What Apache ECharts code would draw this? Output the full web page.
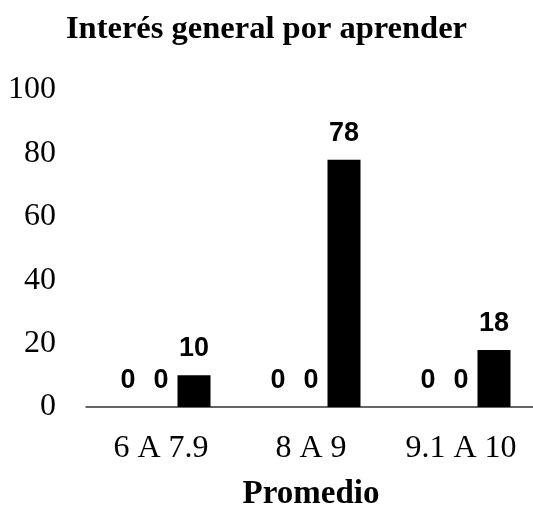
<!DOCTYPE html>
<html>
<head>
<meta charset="utf-8">
<script src="https://cdn.jsdelivr.net/npm/echarts@6/dist/echarts.min.js"></script>
<style>
  html, body { margin: 0; padding: 0; background: #fff; }
  #chart { width: 533px; height: 515px; }
</style>
</head>
<body>
<div id="chart"></div>
<script>
const categories = ['6 A 7.9', '8 A 9', '9.1 A 10']
const serie1 = [0, 0, 0]
const serie2 = [0, 0, 0]
const serie3 = [10, 78, 18]
const yTicks = [0, 20, 40, 60, 80, 100]

const serif = '"Liberation Serif", "DejaVu Serif", serif'
const sans = '"Liberation Sans", Arial, sans-serif'

// etiqueta comun para las barras
const barLabel = {
  show: true,
  position: 'top',
  distance: 13,
  color: '#000',
  fontFamily: sans,
  fontWeight: 'bold',
  fontSize: 27
}

const mkSerie = (name, data) => ({
  name: name,
  type: 'bar',
  data: data,
  barWidth: 33,
  barGap: '0%',
  itemStyle: { color: '#000' },
  label: barLabel
})

const options = {
  animation: false,
  title: {
    text: 'Interés general por aprender',
    left: 'center',
    top: 8,
    textStyle: {
      fontFamily: serif,
      fontWeight: 'bold',
      fontSize: 32.5,
      color: '#000'
    }
  },
  grid: {
    left: 86,
    right: -3,
    top: 90,
    bottom: 108,
    outerBoundsMode: 'none'
  },
  xAxis: {
    type: 'category',
    data: categories,
    name: 'Promedio',
    nameLocation: 'middle',
    nameGap: 71,
    nameTextStyle: {
      fontFamily: serif,
      fontWeight: 'bold',
      fontSize: 33,
      color: '#000'
    },
    axisLine: { lineStyle: { color: '#333', width: 1.5 } },
    axisTick: { show: false },
    axisLabel: {
      margin: 26,
      fontFamily: serif,
      fontSize: 32,
      color: '#000'
    }
  },
  yAxis: {
    type: 'value',
    min: yTicks[0],
    max: yTicks[yTicks.length - 1],
    interval: 20,
    axisLine: { show: false },
    axisTick: { show: false },
    splitLine: { show: false },
    axisLabel: {
      margin: 30,
      fontFamily: serif,
      fontSize: 32,
      color: '#000'
    }
  },
  series: [
    mkSerie('Serie 1', serie1),
    mkSerie('Serie 2', serie2),
    mkSerie('Serie 3', serie3)
  ]
}

let chart = echarts.init(document.getElementById('chart'))
chart.setOption(options)
window.addEventListener('resize', function () {
  chart && chart.resize()
})
</script>
</body>
</html>
